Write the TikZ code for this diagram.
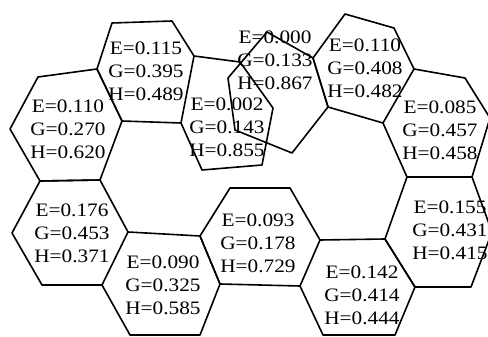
\documentclass[tikz,border=0pt]{standalone}
\usepackage{fontspec}
\setmainfont{Liberation Serif}
\newfontfamily\cellfont[FakeStretch=1.12]{Liberation Serif}
\usetikzlibrary{positioning}

\tikzset{
  cell/.style={line width=1.6pt,line join=round},
  vals/.style={align=center,inner sep=0pt,font=\cellfont\fontsize{19}{23}\selectfont}
}

\begin{document}
\begin{tikzpicture}[x=1pt,y=-1pt]
  \useasboundingbox (0,0) rectangle (488,337);
  % upper row of cells
  \draw[cell] (112,23) -- (172,21) -- (194,56) -- (181,123) -- (122,121) -- (97,69) -- cycle;
  \draw[cell] (38,77) -- (97,69) -- (122,121) -- (100,180) -- (40,181) -- (10,129) -- cycle;
  \draw[cell] (194,56) -- (240,62) -- (273,108) -- (262,165) -- (202,170) -- (181,123);
  \draw[cell] (267,32) -- (313,58) -- (328,107) -- (292,153) -- (235,130) -- (228,78) -- cycle;
  \draw[cell] (345,14) -- (394,28) -- (414,69) -- (383,123) -- (328,107) -- (313,58) -- cycle;
  \draw[cell] (414,69) -- (465,78) -- (490,118) -- (472,177) -- (407,177) -- (383,123);
  % lower row of cells
  \draw[cell] (40,181) -- (100,180) -- (128,232) -- (102,285) -- (42,285) -- (12,233) -- cycle;
  \draw[cell] (128,232) -- (200,236) -- (220,284) -- (200,335) -- (130,335) -- (102,285);
  \draw[cell] (230,188) -- (290,188) -- (320,240) -- (300,286) -- (220,284) -- (200,236) -- cycle;
  \draw[cell] (320,240) -- (385,239) -- (415,287) -- (395,335) -- (323,335) -- (300,286);
  \draw[cell] (407,177) -- (472,177) -- (492,232) -- (471,287) -- (415,287) -- (385,239) -- cycle;
  % values
  \node[vals] (cA) at (146,71) {E=0.115\\G=0.395\\H=0.489};
  \node[vals] (cB) at (68,129) {E=0.110\\G=0.270\\H=0.620};
  \node[vals] (cK) at (227,127) {E=0.002\\G=0.143\\H=0.855};
  \node[vals] (cJ) at (275,60) {E=0.000\\G=0.133\\H=0.867};
  \node[vals] (cI) at (365,68) {E=0.110\\G=0.408\\H=0.482};
  \node[vals] (cH) at (440,130) {E=0.085\\G=0.457\\H=0.458};
  \node[vals] (cC) at (72,233) {E=0.176\\G=0.453\\H=0.371};
  \node[vals] (cD) at (163,285) {E=0.090\\G=0.325\\H=0.585};
  \node[vals] (cE) at (258,243) {E=0.093\\G=0.178\\H=0.729};
  \node[vals] (cF) at (362,295) {E=0.142\\G=0.414\\H=0.444};
  \node[vals] (cG) at (450,230) {E=0.155\\G=0.431\\H=0.415};
\end{tikzpicture}
\end{document}
